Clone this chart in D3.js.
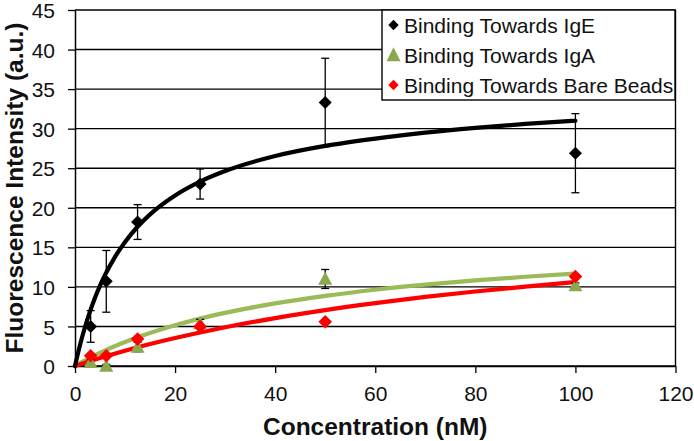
<!DOCTYPE html>
<html>
<head>
<meta charset="utf-8">
<script src="https://cdn.jsdelivr.net/npm/d3@7"></script>
<style>
  html, body { margin: 0; padding: 0; background: #fff; }
  svg { display: block; font-family: "Liberation Sans", Arial, sans-serif; }
</style>
</head>
<body>
<svg id="chart" width="694" height="441"></svg>
<script>
// ---- data ----
const concentrations = [3.125, 6.25, 12.5, 25, 50, 100];
const igEValues = [5.0, 10.7, 18.2, 23.0, 33.3, 26.9];
const igEErrors = [2.0, 3.9, 2.2, 1.9, 5.6, 5.0];
const igAValues = [0.5, 0.0, 2.4, 5.4, 11.0, 10.2];
const igAErrors = [0.3, 0.2, 0.6, 0.5, 1.2, 0.3];
const bareValues = [1.3, 1.3, 3.4, 5.0, 5.6, 11.3];

// fitted trend curves
const igEFitX = [0, 1, 2, 3, 4, 5, 6, 8, 10, 12.5, 15, 20, 25, 30, 40, 50, 60, 70, 80, 90, 100];
const igEFitY = [0, 2.65, 4.93, 6.9, 8.63, 10.15, 11.5, 13.8, 15.68, 17.6, 19.17, 21.56, 23.31, 24.64, 26.54, 27.82, 28.75, 29.5, 30.1, 30.6, 31.0];
const igAFitX = [0, 3.125, 6.25, 12.5, 20, 25, 30, 40, 50, 60, 70, 80, 90, 100];
const igAFitY = [0, 1.08, 2.03, 3.63, 5.15, 5.99, 6.71, 7.92, 8.87, 9.64, 10.28, 10.82, 11.28, 11.68];
const bareFitX = [0, 5, 10, 15, 20, 25, 30, 40, 50, 60, 70, 80, 90, 100];
const bareFitY = [0, 1.01, 1.93, 2.77, 3.53, 4.24, 4.89, 6.06, 7.07, 7.95, 8.73, 9.42, 10.04, 10.6];

const xTicks = [0, 20, 40, 60, 80, 100, 120];
const yTicks = [0, 5, 10, 15, 20, 25, 30, 35, 40, 45];
const legendLabels = ["Binding Towards IgE", "Binding Towards IgA", "Binding Towards Bare Beads"];
const xTitle = "Concentration (nM)";
const yTitle = "Fluorescence Intensity (a.u.)";

// ---- drawing ----
const svg = d3.select("#chart");
const pLeft = 75, pRight = 675.5, pTop = 10, pBottom = 366;
const x = d3.scaleLinear().domain([0, 120]).range([pLeft, pRight]);
const y = d3.scaleLinear().domain([0, 45]).range([pBottom, pTop]);

const black = "#000", green = "#9BBB59", greenMarker = "#8AA84E", red = "#FF0000";

// gridlines
svg.append("g")
  .selectAll("line").data(yTicks).join("line")
  .attr("x1", pLeft).attr("x2", pRight)
  .attr("y1", d => y(d)).attr("y2", d => y(d))
  .attr("stroke", "#000").attr("stroke-width", 1.4);

// right border
svg.append("line").attr("x1", pRight).attr("x2", pRight).attr("y1", pTop).attr("y2", pBottom)
  .attr("stroke", "#000").attr("stroke-width", 1.4);

// axes
const xAxis = svg.append("g").attr("transform", `translate(0,${pBottom})`)
  .call(d3.axisBottom(x).tickValues(xTicks).tickSize(7).tickSizeOuter(0).tickFormat(d3.format("d")));
const yAxis = svg.append("g").attr("transform", `translate(${pLeft},0)`)
  .call(d3.axisLeft(y).tickValues(yTicks).tickSize(7).tickSizeOuter(0).tickPadding(13).tickFormat(d3.format("d")));
[xAxis, yAxis].forEach(a => {
  a.select(".domain").attr("stroke", "#000").attr("stroke-width", 1.5);
  a.selectAll(".tick line").attr("stroke", "#000").attr("stroke-width", 1.3);
  a.selectAll(".tick text").attr("fill", "#111").style("font-size", "21px")
    .style("font-family", "'Liberation Sans', Arial, sans-serif");
});
xAxis.selectAll(".tick text").attr("y", 34.5).attr("dy", 0);
yAxis.selectAll(".tick text").attr("dy", "0.36em");

// titles
svg.append("text").attr("x", (pLeft + pRight) / 2).attr("y", 435)
  .attr("text-anchor", "middle").style("font-size", "24.5px").style("font-weight", "bold")
  .attr("fill", "#111").text(xTitle);
svg.append("text").attr("transform", `translate(23,188) rotate(-90)`)
  .attr("text-anchor", "middle").style("font-size", "24.5px").style("font-weight", "bold")
  .attr("fill", "#111").text(yTitle);

// fit curves
const line = d3.line().x(d => x(d[0])).y(d => y(d[1])).curve(d3.curveMonotoneX);
const fits = [
  { xs: igAFitX, ys: igAFitY, color: green },
  { xs: bareFitX, ys: bareFitY, color: red },
  { xs: igEFitX, ys: igEFitY, color: black }
];
fits.forEach(f => {
  svg.append("path").datum(f.xs.map((v, i) => [v, f.ys[i]]))
    .attr("d", line).attr("fill", "none").attr("stroke", f.color)
    .attr("stroke-width", 4.2).attr("stroke-linecap", "round").attr("stroke-linejoin", "round");
});

// error bars
function errorBars(vals, errs) {
  const g = svg.append("g").attr("stroke", "#000").attr("stroke-width", 1.3);
  concentrations.forEach((c, i) => {
    const cx = x(c), y1 = y(vals[i] + errs[i]), y2 = y(Math.max(0, vals[i] - errs[i]));
    g.append("line").attr("x1", cx).attr("x2", cx).attr("y1", y1).attr("y2", y2);
    g.append("line").attr("x1", cx - 4).attr("x2", cx + 4).attr("y1", y1).attr("y2", y1);
    g.append("line").attr("x1", cx - 4).attr("x2", cx + 4).attr("y1", y2).attr("y2", y2);
  });
}
errorBars(igEValues, igEErrors);
errorBars(igAValues, igAErrors);

// markers
const diamond = r => `M0,${-r}L${r},0L0,${r}L${-r},0Z`;
const triangle = (w, h) => `M0,${-h * 0.55}L${w / 2},${h * 0.45}L${-w / 2},${h * 0.45}Z`;

svg.append("g").selectAll("path").data(concentrations.map((c, i) => [c, igEValues[i]])).join("path")
  .attr("transform", d => `translate(${x(d[0])},${y(d[1])})`).attr("d", diamond(6.5)).attr("fill", black);
svg.append("g").selectAll("path").data(concentrations.map((c, i) => [c, igAValues[i]])).join("path")
  .attr("transform", d => `translate(${x(d[0])},${y(d[1])})`).attr("d", triangle(14, 13)).attr("fill", greenMarker);
svg.append("g").selectAll("path").data(concentrations.map((c, i) => [c, bareValues[i]])).join("path")
  .attr("transform", d => `translate(${x(d[0])},${y(d[1])})`).attr("d", diamond(6.8)).attr("fill", red);

// legend
const lg = svg.append("g");
lg.append("rect").attr("x", 382).attr("y", 10).attr("width", 293).attr("height", 90)
  .attr("fill", "#fff").attr("stroke", "#000").attr("stroke-width", 1.4);
const legendMarks = [
  { d: diamond(5.2), color: black },
  { d: triangle(14, 14), color: greenMarker },
  { d: diamond(5.2), color: red }
];
legendLabels.forEach((lab, i) => {
  const cy = 25 + i * 30;
  lg.append("path").attr("transform", `translate(393.5,${cy})`).attr("d", legendMarks[i].d).attr("fill", legendMarks[i].color);
  lg.append("text").attr("x", 404).attr("y", cy + 7.5).style("font-size", "21px").attr("fill", "#111").text(lab);
});
</script>
</body>
</html>
